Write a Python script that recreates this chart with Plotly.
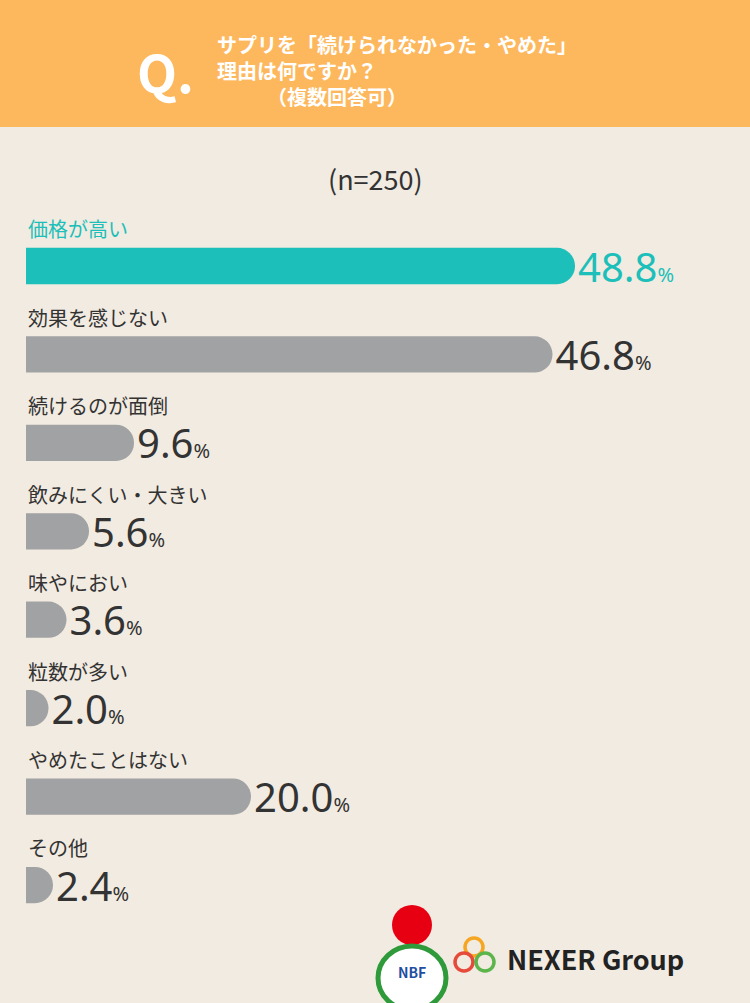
import plotly.graph_objects as go

# data
labels = ["価格が高い", "効果を感じない", "続けるのが面倒", "飲みにくい・大きい",
          "味やにおい", "粒数が多い", "やめたことはない", "その他"]
values = [48.8, 46.8, 9.6, 5.6, 3.6, 2.0, 20.0, 2.4]

W, H = 750, 1003
TEAL = "#1CBFB9"
GRAY = "#A1A2A4"
TXT = "#333333"
FONT = "Noto Sans CJK JP"
PXU = 549 / 48.8  # pixels per percent

ypos = list(range(len(values)))
colors = [TEAL] + [GRAY] * (len(values) - 1)

fig = go.Figure()
fig.add_trace(go.Bar(
    x=values, y=ypos, orientation="h", width=0.41,
    marker=dict(color=colors, cornerradius=18, line=dict(width=0)),
    text=[f"{v:.1f}<span style='font-size:20px'>%</span>" for v in values],
    textposition="outside", cliponaxis=False, constraintext="none",
    textfont=dict(family="Noto Sans", size=40, color=[TEAL] + [TXT] * 7),
    hoverinfo="skip",
))

# category labels above bars
for i, lab in enumerate(labels):
    fig.add_annotation(x=0, y=i - 0.42, text=lab, showarrow=False,
                       xref="x", yref="y", xanchor="left", yanchor="middle",
                       font=dict(family=FONT, size=20, color=TEAL if i == 0 else TXT))

def ann(x, y, text, size, color, xanchor="center"):
    fig.add_annotation(xref="paper", yref="paper", x=x / W, y=1 - y / H, text=text,
                       showarrow=False, xanchor=xanchor, yanchor="middle", align="left",
                       font=dict(family=FONT, size=size, color=color))

# header band
fig.add_shape(type="rect", xref="paper", yref="paper", x0=0, x1=1,
              y0=1 - 127 / H, y1=1, fillcolor="#FDB85E", line_width=0, layer="below")
ann(165, 70, "<b>Q.</b>", 52, "white")
ann(215, 70, "<b>サプリを「続けられなかった・やめた」</b><br><b>理由は何ですか？</b><br><b>　　　（複数回答可）</b>",
    20, "white", xanchor="left")
ann(375, 178, "(n=250)", 27, TXT)

# logos (approximation)
fig.add_shape(type="circle", xref="paper", yref="paper", x0=392 / W, x1=432 / W,
              y0=1 - 945 / H, y1=1 - 905 / H, fillcolor="#E60012", line_width=0)
fig.add_shape(type="circle", xref="paper", yref="paper", x0=378 / W, x1=446 / W,
              y0=1 - 1010 / H, y1=1 - 946 / H, fillcolor="white",
              line=dict(color="#2E9A3A", width=5))
ann(412, 972, "<b>NBF</b>", 14, "#1E4FA0")
for cx, cy, c in [(474, 947, "#F5A623"), (464, 962, "#E64A3B"), (485, 962, "#5BB54A")]:
    fig.add_shape(type="circle", xref="paper", yref="paper",
                  x0=(cx - 9) / W, x1=(cx + 9) / W, y0=1 - (cy + 9) / H, y1=1 - (cy - 9) / H,
                  line=dict(color=c, width=3.5))
ann(505, 958, "<b>NEXER Group</b>", 27, "#222222", xanchor="left")

fig.update_layout(
    width=W, height=H, margin=dict(l=0, r=0, t=0, b=0),
    paper_bgcolor="#F2EBE1", plot_bgcolor="#F2EBE1", showlegend=False,
    xaxis=dict(range=[-26 / PXU, 724 / PXU], visible=False, fixedrange=True),
    yaxis=dict(range=[(1003 - 266) / 88.43, -266 / 88.43], visible=False, fixedrange=True),
    font=dict(family=FONT),
)
fig.write_html("out.html", config={"displayModeBar": False},
               post_script="document.body.style.margin='0';")
